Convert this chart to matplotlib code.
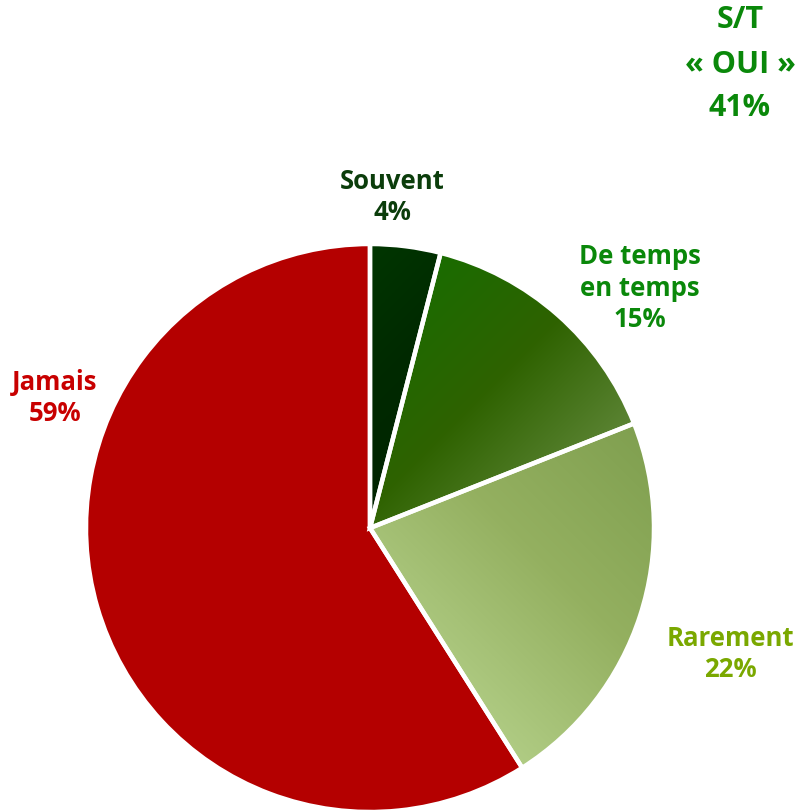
import numpy as np
import matplotlib
matplotlib.use("Agg")
import matplotlib.pyplot as plt
from matplotlib.colors import LinearSegmentedColormap

categories = ["Souvent", "De temps\nen temps", "Rarement", "Jamais"]
values = [4, 15, 22, 59]
pct_labels = ["4%", "15%", "22%", "59%"]
summary_lines = ["S/T", "« OUI »", "41%"]

base_colors = ["#002e00", "#2e6200", "#93b05e", "#b40000"]
gradients = [
    ["#003600", "#002a00", "#002400"],
    ["#1a6c00", "#2e6200", "#5c8434"],
    ["#b0cc84", "#94b060", "#80a050"],
    None,
]
grad_dirs = [(1, -1), (1, -1), (1, 1), None]
text_colors = ["#0b3d0b", "#0a880a", "#7aa800", "#c80000"]

W, H = 799, 811
fig = plt.figure(figsize=(W / 100, H / 100), dpi=100)
ax = fig.add_axes([0, 0, 1, 1])

cx, cy, R = 370, H - 528, 284
wedges, _ = ax.pie(values, colors=base_colors, startangle=90, counterclock=False,
                   center=(cx, cy), radius=R,
                   wedgeprops=dict(linewidth=0, edgecolor="none"))

# gradient fills
n = 400
xs = np.linspace(cx - R, cx + R, n)
ys = np.linspace(cy - R, cy + R, n)
X, Y = np.meshgrid(xs, ys)
for w, g, d in zip(wedges, gradients, grad_dirs):
    if g is None:
        continue
    th1, th2 = np.deg2rad(w.theta1), np.deg2rad(w.theta2)
    dx, dy = d
    proj = (X - cx) * dx + (Y - cy) * dy
    angs = np.linspace(th1, th2, 50)
    px = np.concatenate([[0], R * np.cos(angs)])
    py = np.concatenate([[0], R * np.sin(angs)])
    pp = px * dx + py * dy
    t = (proj - pp.min()) / (pp.max() - pp.min())
    t = np.clip(t, 0, 1)
    cmap = LinearSegmentedColormap.from_list("g", g)
    im = ax.imshow(t, cmap=cmap, origin="lower", extent=(cx - R, cx + R, cy - R, cy + R),
                   interpolation="bilinear", zorder=2, vmin=0, vmax=1)
    im.set_clip_path(w)

# white separators on top
outline, _ = ax.pie(values, colors=["none"] * 4, startangle=90, counterclock=False,
                    center=(cx, cy), radius=R,
                    wedgeprops=dict(linewidth=3.2, edgecolor="white", facecolor="none", zorder=3))

ax.set_xlim(0, W)
ax.set_ylim(0, H)
ax.set_aspect("equal")
ax.axis("off")

font = dict(family=["Open Sans", "DejaVu Sans"], fontweight="bold", fontsize=18.5,
            ha="center", va="center", linespacing=1.2)
label_pos = [(392, 197), (640, 288), (730, 654), (55, 398)]
for cat, pct, col, (x, y) in zip(categories, pct_labels, text_colors, label_pos):
    ax.text(x, H - y, cat + "\n" + pct, color=col, zorder=5, **font)

sfont = {**font, "fontsize": 22}
for line, y in zip(summary_lines, [20, 65, 108]):
    ax.text(740, H - y, line, color="#0a880a", zorder=5, **sfont)

fig.savefig("out.png", dpi=100)
